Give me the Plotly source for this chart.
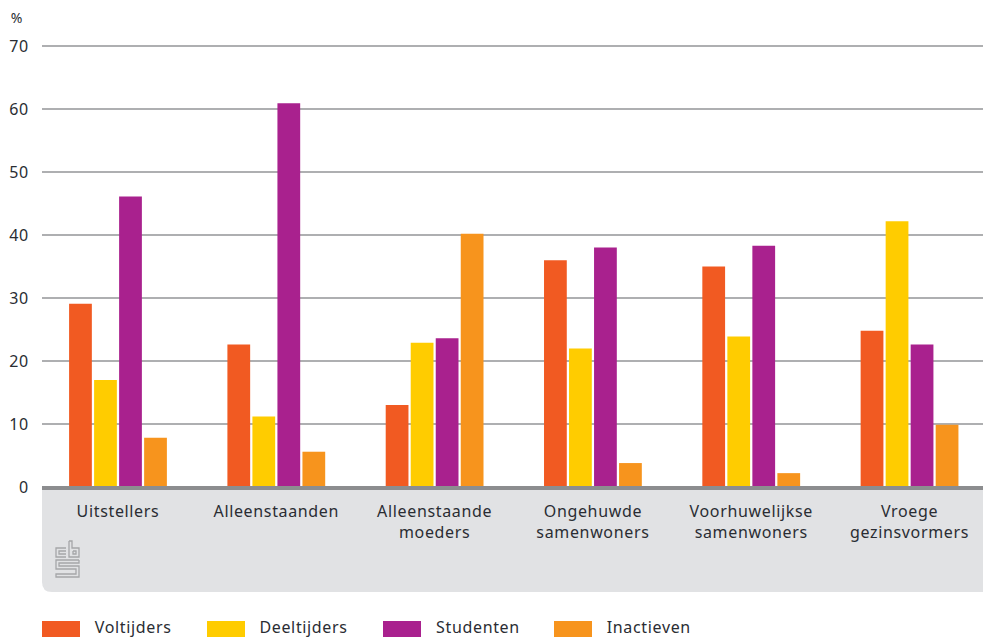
import plotly.graph_objects as go

categories = ["Uitstellers", "Alleenstaanden", "Alleenstaande<br>moeders", "Ongehuwde<br>samenwoners",
              "Voorhuwelijkse<br>samenwoners", "Vroege<br>gezinsvormers"]
series_names = ["Voltijders", "Deeltijders", "Studenten", "Inactieven"]
voltijders = [29.1, 22.6, 13.0, 36.0, 35.0, 24.8]
deeltijders = [17.0, 11.2, 22.9, 22.0, 23.9, 42.2]
studenten = [46.1, 60.9, 23.6, 38.0, 38.3, 22.6]
inactieven = [7.8, 5.6, 40.2, 3.8, 2.2, 9.9]
colors = ["#f15a22", "#ffcc00", "#a9218e", "#f7941d"]
y_ticks = [0, 10, 20, 30, 40, 50, 60, 70]
legend_swatch_x = [42, 207, 383, 554]

W, H = 983, 637
L, R, T, B = 42, 0, 45, 150
PW, PH = W - L - R, H - T - B
FONT = "Noto Sans"
TXT = "#2a2d33"
px = lambda v: (v - L) / PW
py = lambda v: 1 - (v - T) / PH

fig = go.Figure()
for name, vals, c in zip(series_names, [voltijders, deeltijders, studenten, inactieven], colors):
    fig.add_bar(x=list(range(len(categories))), y=vals, name=name, marker=dict(color=c, line_width=0))

shapes = []
# grey band under the axis
shapes.append(dict(type="path", xref="paper", yref="paper", layer="below",
                   path=f"M {px(42)} {py(487)} L {px(983)} {py(487)} L {px(983)} {py(592)} L {px(52)} {py(592)} "
                        f"Q {px(42)} {py(592)} {px(42)} {py(582)} Z",
                   fillcolor="#e1e2e4", line_width=0))
# thick baseline
shapes.append(dict(type="line", xref="paper", yref="paper", x0=0, x1=1, y0=py(488), y1=py(488),
                   line=dict(color="#8c8d8f", width=4), layer="above"))
# logo
def logo(points):
    d = "M " + " L ".join(f"{px(a)} {py(b)}" for a, b in points)
    shapes.append(dict(type="path", xref="paper", yref="paper", path=d,
                       line=dict(color="#a5a6a8", width=1.3), layer="above"))
logo([(66, 548), (56, 548), (56, 557), (66, 557)])
logo([(66, 551), (59, 551), (59, 554), (66, 554)])
logo([(69, 541), (69, 557), (79, 557), (79, 548), (72, 548), (72, 541), (69, 541)])
logo([(73, 551), (76, 551), (76, 554), (73, 554), (73, 551)])
logo([(79, 560), (56, 560), (56, 569), (76, 569), (76, 574), (56, 574), (56, 577), (79, 577), (79, 566), (59, 566), (59, 563), (79, 563), (79, 560)])

annotations = [dict(text="%", xref="paper", yref="paper", x=px(9), y=py(18), xanchor="left", yanchor="middle",
                    showarrow=False, font=dict(family=FONT, size=14, color=TXT))]
# legend
for sx, name, c in zip(legend_swatch_x, series_names, colors):
    shapes.append(dict(type="rect", xref="paper", yref="paper", x0=px(sx), x1=px(sx + 38), y0=py(621), y1=py(640),
                       fillcolor=c, line_width=0))
    annotations.append(dict(text=name, xref="paper", yref="paper", x=px(sx + 53.5), y=py(626.5), xanchor="left",
                            yanchor="middle", showarrow=False, font=dict(family=FONT, size=16, color=TXT)))

fig.update_layout(
    width=W, height=H, margin=dict(l=L, r=R, t=T, b=B), autosize=False,
    paper_bgcolor="white", plot_bgcolor="white", showlegend=False,
    barmode="group", bargap=0.368, bargroupgap=0.09,
    shapes=shapes, annotations=annotations,
    font=dict(family=FONT, color=TXT),
    xaxis=dict(tickmode="array", tickvals=list(range(len(categories))), ticktext=categories,
               range=[-0.48, 5.464], showgrid=False, zeroline=False, showline=False,
               ticks="outside", ticklen=10, tickcolor="rgba(0,0,0,0)", tickfont=dict(size=16, family=FONT, color=TXT)),
    yaxis=dict(range=[0, 70.16], tickvals=y_ticks, showgrid=True, gridcolor="#aeafb1", gridwidth=1.5,
               zeroline=False, showline=False, ticks="outside", ticklen=9, tickcolor="rgba(0,0,0,0)",
               tickfont=dict(size=16, family=FONT, color=TXT)),
)
post = """
document.body.style.margin = '0';
document.querySelectorAll('.xtick text, .annotation-text').forEach(function (t) {
  t.style.letterSpacing = '0.65px';
});
document.querySelectorAll('.ytick text').forEach(function (t) {
  t.style.letterSpacing = '0.6px';
});
"""
fig.write_html("out.html", post_script=post, config={"displayModeBar": False})
